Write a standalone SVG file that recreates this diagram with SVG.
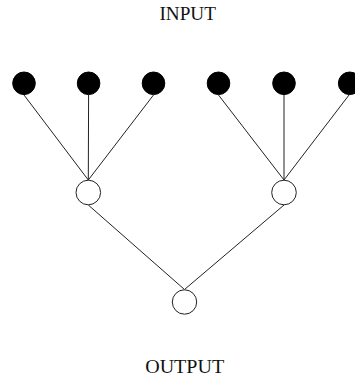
<svg xmlns="http://www.w3.org/2000/svg" width="355" height="376" viewBox="0 0 355 376">
<style>
.in{fill:#000;stroke:#000;stroke-width:1}
.hid{fill:#fff;stroke:#222;stroke-width:1}
.e{stroke:#222;stroke-width:1;fill:none}
.t{font-family:"Liberation Serif",serif;font-size:19.5px;fill:#111;text-anchor:middle}
</style>
<rect width="355" height="376" fill="#fff"/>
<g id="connectors">
<line class="e" x1="24" y1="95" x2="88.3" y2="180"/>
<line class="e" x1="88.6" y1="95" x2="88.3" y2="180"/>
<line class="e" x1="153.5" y1="95" x2="88.3" y2="180"/>
<line class="e" x1="218.5" y1="95" x2="284" y2="180"/>
<line class="e" x1="284" y1="95" x2="284" y2="180"/>
<line class="e" x1="349" y1="95" x2="284" y2="180"/>
<line class="e" x1="88.3" y1="205" x2="184.5" y2="289.5"/>
<line class="e" x1="284" y1="205" x2="184.5" y2="289.5"/>
</g>
<g id="in1"><circle class="in" cx="24" cy="83.3" r="11.3"/></g>
<g id="in2"><circle class="in" cx="88.6" cy="83.3" r="11.3"/></g>
<g id="in3"><circle class="in" cx="153.5" cy="83.3" r="11.3"/></g>
<g id="in4"><circle class="in" cx="218.5" cy="83.3" r="11.3"/></g>
<g id="in5"><circle class="in" cx="284" cy="83.3" r="11.3"/></g>
<g id="in6"><circle class="in" cx="349.7" cy="83.3" r="11.3"/></g>
<g id="h1"><circle class="hid" cx="88.3" cy="192.5" r="12.3"/></g>
<g id="h2"><circle class="hid" cx="284" cy="192.5" r="12.3"/></g>
<g id="out"><circle class="hid" cx="184.5" cy="302" r="12.2"/></g>
<g id="lbl-input"><text class="t" x="187.7" y="20" textLength="56.5" lengthAdjust="spacingAndGlyphs">INPUT</text></g>
<g id="lbl-output"><text class="t" x="184.7" y="373" textLength="79" lengthAdjust="spacingAndGlyphs">OUTPUT</text></g>
</svg>
